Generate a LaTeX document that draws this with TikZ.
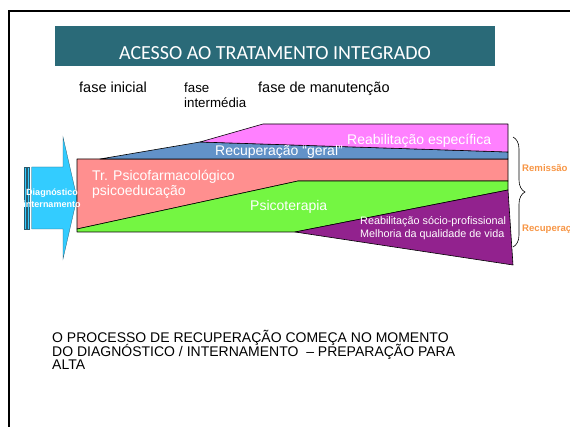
\documentclass[tikz,border=0pt]{standalone}
\usepackage{fontspec}
\setmainfont{Liberation Sans}
\newfontfamily\titleFont{Carlito}
\usetikzlibrary{decorations.pathreplacing}

\definecolor{titleTeal}{RGB}{42,106,120}
\definecolor{arrowCyan}{RGB}{51,204,255}
\definecolor{pinkBand}{RGB}{255,128,255}
\definecolor{blueBand}{RGB}{98,146,200}
\definecolor{salmonBand}{RGB}{255,143,143}
\definecolor{greenBand}{RGB}{116,246,66}
\definecolor{purpleBand}{RGB}{146,34,142}
\definecolor{remOrange}{RGB}{247,150,70}
\definecolor{stripeLine}{RGB}{40,90,110}

\newcommand{\setSize}[1]{\fontsize{#1}{#1}\selectfont}

\begin{document}
\begin{tikzpicture}[x=1pt, y=-1pt,
    band/.style={draw=black, line width=0.6pt, line join=round},
    stripe/.style={draw=stripeLine, fill=arrowCyan, line width=0.3pt},
    bandtext/.style={anchor=base west, inner sep=0pt, text=white, font=\setSize{14}},
    phasetext/.style={anchor=base west, inner sep=0pt, font=\setSize{14.5}},
    bodytext/.style={anchor=base west, inner sep=0pt, font=\setSize{14}}]

    \useasboundingbox (0,0) rectangle (570,427);

    %draws slide frame
    \draw[line width=2.5pt] (9,427) -- (9,11) -- (570,11);

    %draws title bar
    \fill[titleTeal] (55,26) rectangle (495,66);
    \node[anchor=base, inner sep=0pt, text=white, font=\titleFont\setSize{20}]
        (title) at (275,60) {ACESSO AO TRATAMENTO INTEGRADO};

    %draws phase labels
    \node[phasetext] (faseIni) at (79,93) {fase inicial};
    \node[phasetext, font=\setSize{13.3}] (faseInt) at (184,93) {fase};
    \node[phasetext, font=\setSize{13.3}] (faseInt2) at (184,108) {intermédia};
    \node[phasetext] (faseMan) at (258,93) {fase de manutenção};

    %draws striped arrow
    \draw[stripe] (24,167) rectangle (26,229);
    \draw[stripe] (27.3,167) rectangle (29.3,229);
    \draw[stripe]
        (31.7,167) -- (63,167) -- (63,137) -- (77,198)
        -- (63,259) -- (63,229) -- (31.7,229) -- cycle;

    %draws bands
    \draw[band, fill=salmonBand]
        (77,159) -- (508,159) -- (508,181) -- (298,181) -- (77,229) -- cycle;
    \draw[band, fill=greenBand]
        (77,229) -- (298,181) -- (508,181) -- (508,190)
        -- (295,232) -- (77,232) -- cycle;
    \draw[band, fill=purpleBand]
        (295,232) -- (508,190) -- (513,265) -- cycle;
    \draw[band, fill=blueBand]
        (100,159) -- (200,142) -- (508,152) -- (508,159) -- cycle;
    \draw[band, fill=pinkBand]
        (200,142) -- (263,124) -- (508,124) -- (508,152) -- cycle;

    %draws band labels
    \node[anchor=base, inner sep=0pt, text=white, font=\bfseries\setSize{9}]
        (diag) at (52,196) {Diagnóstico};
    \node[anchor=base, inner sep=0pt, text=white, font=\bfseries\setSize{9}]
        (intern) at (52,208) {internamento};
    \node[bandtext] (reabEsp) at (347,145) {Reabilitação específica};
    \node[bandtext] (recGeral) at (215,156) {Recuperação “geral”};
    \node[bandtext] (psicofarm) at (92,181) {Tr. Psicofarmacológico};
    \node[bandtext] (psicoed) at (92,196) {psicoeducação};
    \node[bandtext] (psicoter) at (250,211) {Psicoterapia};
    \node[bandtext, font=\setSize{10.8}] (reabSocio) at (360,225)
        {Reabilitação sócio-profissional};
    \node[bandtext, font=\setSize{10.8}] (melhoria) at (360,238)
        {Melhoria da qualidade de vida};

    %draws brace and outcomes
    \draw[line width=0.6pt, decorate, decoration={brace, amplitude=12pt}]
        (513,137) -- (513,247);
    \node[anchor=base west, inner sep=0pt, text=remOrange, font=\bfseries\setSize{9.6}]
        (remissao) at (522,172) {Remissão};
    \node[anchor=base west, inner sep=0pt, text=remOrange, font=\bfseries\setSize{9.6}]
        (recuperacao) at (522,232) {Recuperação};

    %draws closing statement
    \node[bodytext] (proc1) at (52,342) {O PROCESSO DE RECUPERAÇÃO COMEÇA NO MOMENTO};
    \node[bodytext] (proc2) at (52,356) {DO DIAGNÓSTICO / INTERNAMENTO\ \ – PREPARAÇÃO PARA};
    \node[bodytext] (proc3) at (52,370) {ALTA};

\end{tikzpicture}
\end{document}
